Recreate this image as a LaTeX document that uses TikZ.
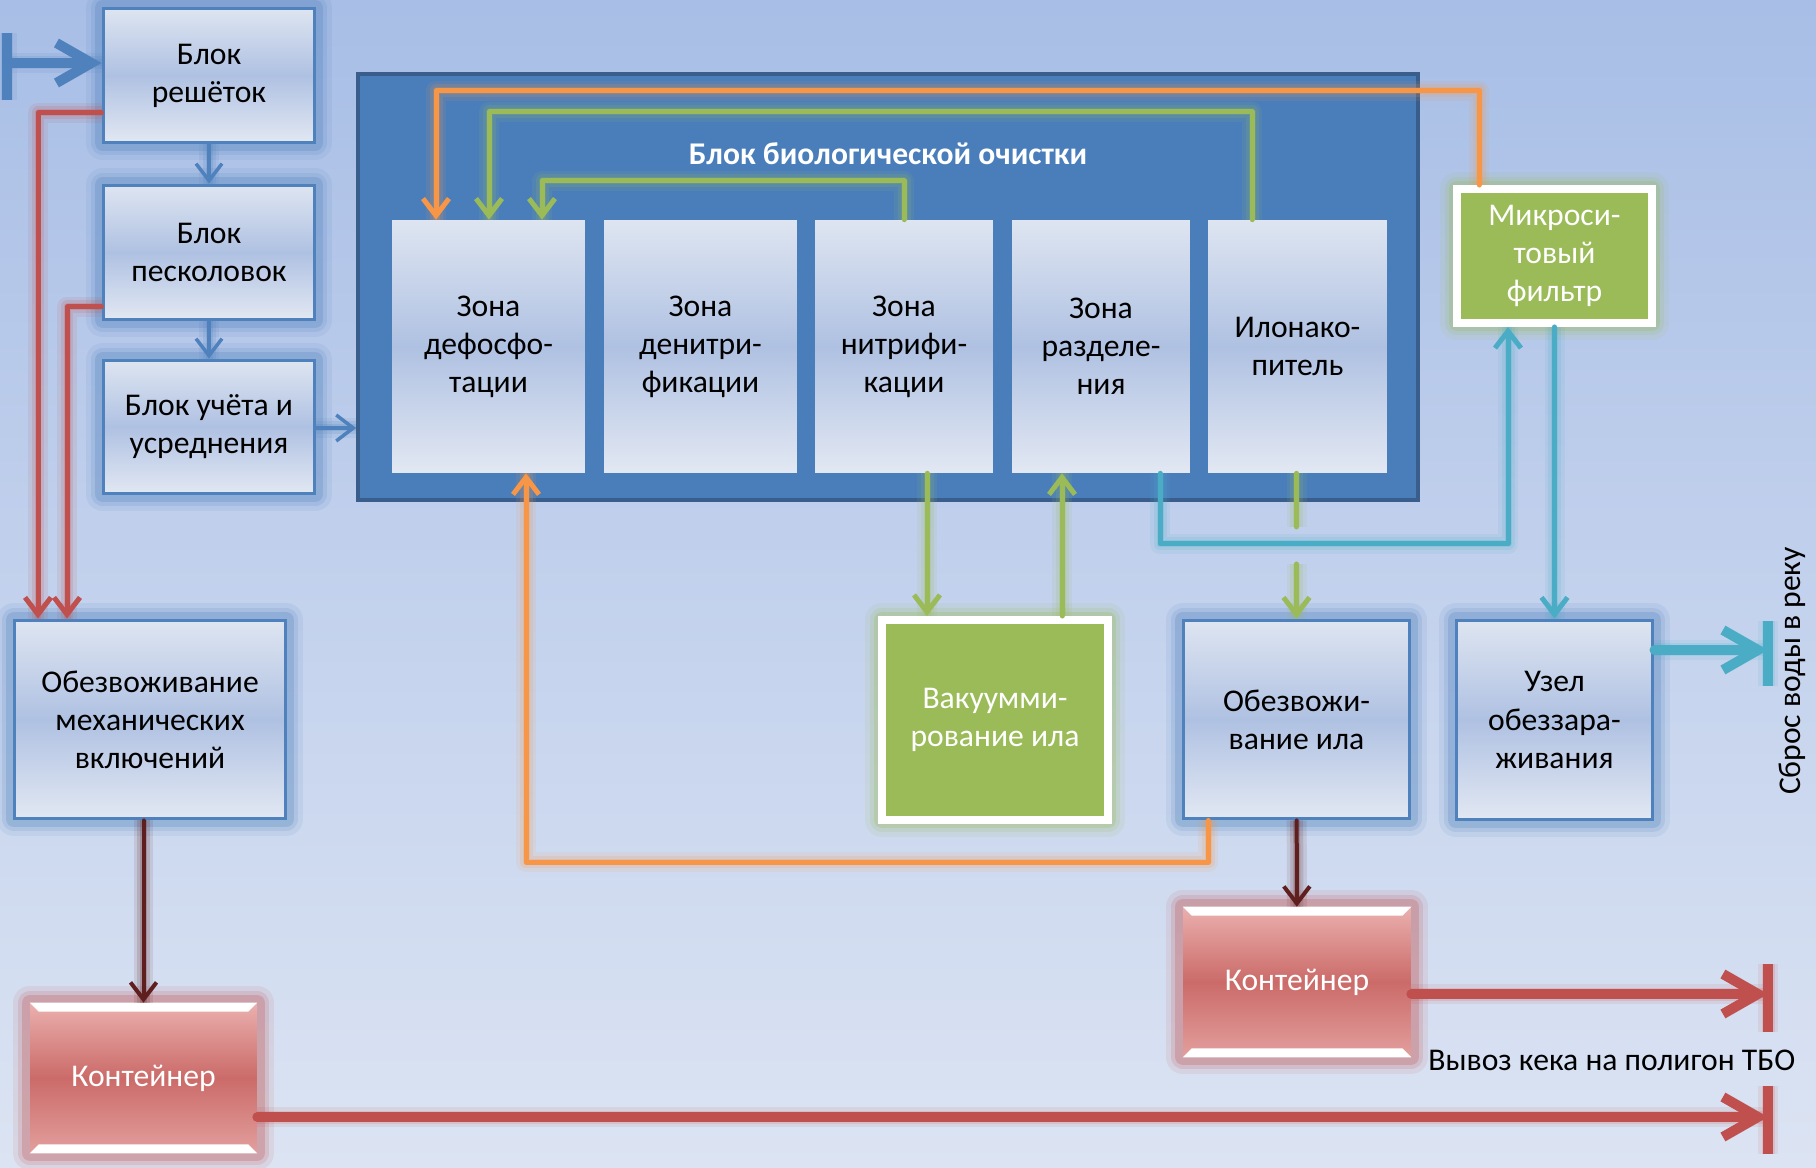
\documentclass[tikz,border=0pt]{standalone}
\usepackage{fontspec}
\setmainfont{Carlito}
\usetikzlibrary{arrows.meta}
\definecolor{bgtop}{HTML}{A8BEE6}
\definecolor{bgbot}{HTML}{DCE4F3}
\definecolor{blkline}{HTML}{4F81BD}
\definecolor{blktop}{HTML}{DEE5F1}
\definecolor{blkmid}{HTML}{AFC1E2}
\definecolor{blkbot}{HTML}{E2E8F3}
\definecolor{biofill}{HTML}{4A7EBB}
\definecolor{bioline}{HTML}{3A5E8C}
\definecolor{grn}{HTML}{9BBB59}
\definecolor{org}{HTML}{F79646}
\definecolor{cyn}{HTML}{4BACC6}
\definecolor{rd}{HTML}{C0504D}
\definecolor{drd}{HTML}{5E1F1E}
\definecolor{redtop}{HTML}{EAB0AE}
\definecolor{redmid}{HTML}{CB6B69}
\definecolor{redbot}{HTML}{E29F9D}
\tikzset{
  txt/.style={font=\fontsize{18}{21.7}\selectfont, align=center, inner sep=0pt},
  halo/.style={preaction={draw=#1, -, line width=0.4cm, opacity=0.1, line join=round},
    preaction={draw=#1, -, line width=0.26cm, opacity=0.15, line join=round},
    preaction={draw=#1, -, line width=0.14cm, opacity=0.2, line join=round}},
  boxhalo/.style={preaction={draw=#1, line width=0.7cm, opacity=0.1, line join=round},
    preaction={draw=#1, line width=0.5cm, opacity=0.15, line join=round},
    preaction={draw=#1, line width=0.34cm, opacity=0.25, line join=round}},
  blk/.style={txt, boxhalo=blkline, draw=blkline, line width=0.06cm, top color=blktop, bottom color=blkbot, middle color=blkmid},
  zone/.style={txt, top color=blktop, bottom color=blkbot, middle color=blkmid, minimum height=5.06cm},
  grnbox/.style={txt, boxhalo=grn, fill=grn, draw=white, line width=0.16cm, text=white},
  redbox/.style={txt, boxhalo=rd, text=white, top color=redtop, bottom color=redbot, middle color=redmid,
    minimum width=4.56cm, minimum height=3cm},
  flow/.style={halo=#1, draw=#1, line width=0.1cm, line cap=round, line join=round,
    -{Straight Barb[length=0.34cm,width=0.52cm]}},
  bigflow/.style={halo=#1, draw=#1, line width=0.2cm, line cap=round,
    -{Straight Barb[length=0.7cm,width=0.8cm]}},
  endbar/.style={halo=#1, draw=#1, line width=0.2cm}
}
\begin{document}
\begin{tikzpicture}[x=0.02cm, y=-0.02cm]
\useasboundingbox (0,0) rectangle (1816,1168);
\shade[top color=bgtop, bottom color=bgbot] (0,0) rectangle (1816,1168);

\node[draw=bioline, fill=biofill, line width=0.08cm, minimum width=21.2cm, minimum height=8.52cm] (bio) at (888,287) {};
\node[txt, text=white, font=\fontsize{18}{21.7}\selectfont\bfseries] (biotitle) at (888,154) {Блок биологической очистки};
\node[zone, minimum width=3.86cm] (z1) at (488.5,346.5) {Зона\\дефосфо-\\тации};
\node[zone, minimum width=3.86cm] (z2) at (700.5,346.5) {Зона\\денитри-\\фикации};
\node[zone, minimum width=3.56cm] (z3) at (904,346.5) {Зона\\нитрифи-\\кации};
\node[zone, minimum width=3.56cm] (z4) at (1101,346.5) {Зона\\разделе-\\ния};
\node[zone, minimum width=3.58cm] (z5) at (1297.5,346.5) {Илонако-\\питель};

\node[blk, minimum width=4.24cm, minimum height=2.7cm] (grid) at (209,75.5) {Блок\\решёток};
\node[blk, minimum width=4.24cm, minimum height=2.7cm] (sand) at (209,252.5) {Блок\\песколовок};
\node[blk, minimum width=4.24cm, minimum height=2.68cm] (meter) at (209,427) {Блок учёта и\\усреднения};
\node[blk, minimum width=5.44cm, minimum height=3.98cm] (mech) at (150,719.5) {Обезвоживание\\механических\\включений};
\node[redbox, minimum width=4.54cm] (cont1) at (143.5,1078) {Контейнер};
\node[grnbox, minimum width=4.52cm, minimum height=4cm] (vac) at (995,720) {Вакуумми-\\рование ила};
\node[blk, minimum width=4.54cm, minimum height=3.98cm] (sludge) at (1296.5,719.5) {Обезвожи-\\вание ила};
\node[redbox] (cont2) at (1297,982) {Контейнер};
\node[blk, minimum width=3.94cm, minimum height=4cm] (disinf) at (1554.5,720) {Узел\\обеззара-\\живания};
\node[grnbox, minimum width=3.9cm, minimum height=2.68cm] (filter) at (1554.5,256) {Микроси-\\товый\\фильтр};

\fill[white] (cont1.north west) -- (cont1.north east) -- ++(-9,9) -- ([shift={(9,9)}]cont1.north west) -- cycle;
\fill[white] (cont1.south west) -- (cont1.south east) -- ++(-9,-9) -- ([shift={(9,-9)}]cont1.south west) -- cycle;
\fill[white] (cont2.north west) -- (cont2.north east) -- ++(-9,9) -- ([shift={(9,9)}]cont2.north west) -- cycle;
\fill[white] (cont2.south west) -- (cont2.south east) -- ++(-9,-9) -- ([shift={(9,-9)}]cont2.south west) -- cycle;

\node[txt, anchor=west] (cake) at (1428,1060) {Вывоз кека на полигон ТБО};
\node[txt, rotate=90] (river) at (1792,671) {Сброс воды в реку};

\coordinate (inlet) at (7,63);
\coordinate (outlet) at (1768,650);
\coordinate (dump2) at (1768,994);
\coordinate (dump1) at (1768,1117);

\draw[endbar=blkline] (inlet |- 0,33) -- (inlet |- 0,100);
\draw[bigflow=blkline] (inlet) -- (grid.west |- inlet);
\draw[flow=blkline, line width=0.07cm] (grid) -- (sand);
\draw[flow=blkline, line width=0.07cm] (sand) -- (meter);
\draw[flow=blkline, line width=0.07cm] (meter.east |- 0,428) -- (bio.west |- 0,428);
\draw[flow=rd] (grid.west |- 0,113) -| (38,0 |- mech.north);
\draw[flow=rd] (sand.west |- 0,307) -| (67,0 |- mech.north);
\draw[flow=drd, line width=0.08cm] (mech.south -| cont1.north) -- (cont1.north);
\draw[flow=drd, line width=0.08cm] (sludge) -- (cont2);

\draw[flow=org] (filter.north -| 1479,0) |- (436,91) -- (z1.north -| 436,0);
\draw[flow=grn] (z5.north -| 1252,0) |- (489,112) -- (z1.north -| 489,0);
\draw[flow=grn] (z3.north -| 904,0) |- (542,181) -- (z1.north -| 542,0);
\draw[flow=org] (sludge.south -| 1208,0) |- (526,862) -- (z1.south -| 526,0);
\draw[flow=grn] (z3.south -| 927,0) -- (vac.north -| 927,0);
\draw[flow=grn] (vac.north -| 1062,0) -- (z4.south -| 1062,0);
\draw[flow=cyn] (z4.south -| 1160,0) |- (1508,544) -- (filter.south -| 1508,0);
\draw[flow=grn] (sludge.north |- z5.south) -- (sludge.north |- 0,527) (sludge.north |- 0,564) -- (sludge.north);
\draw[flow=cyn] (filter) -- (disinf);

\draw[endbar=cyn] (outlet |- 0,621) -- (outlet |- 0,686);
\draw[bigflow=cyn] (disinf.east |- outlet) -- (outlet);
\draw[endbar=rd] (dump2 |- 0,964) -- (dump2 |- 0,1032);
\draw[bigflow=rd] (cont2.east |- dump2) -- (dump2);
\draw[endbar=rd] (dump1 |- 0,1086) -- (dump1 |- 0,1154);
\draw[bigflow=rd] (cont1.east |- dump1) -- (dump1);
\end{tikzpicture}
\end{document}
